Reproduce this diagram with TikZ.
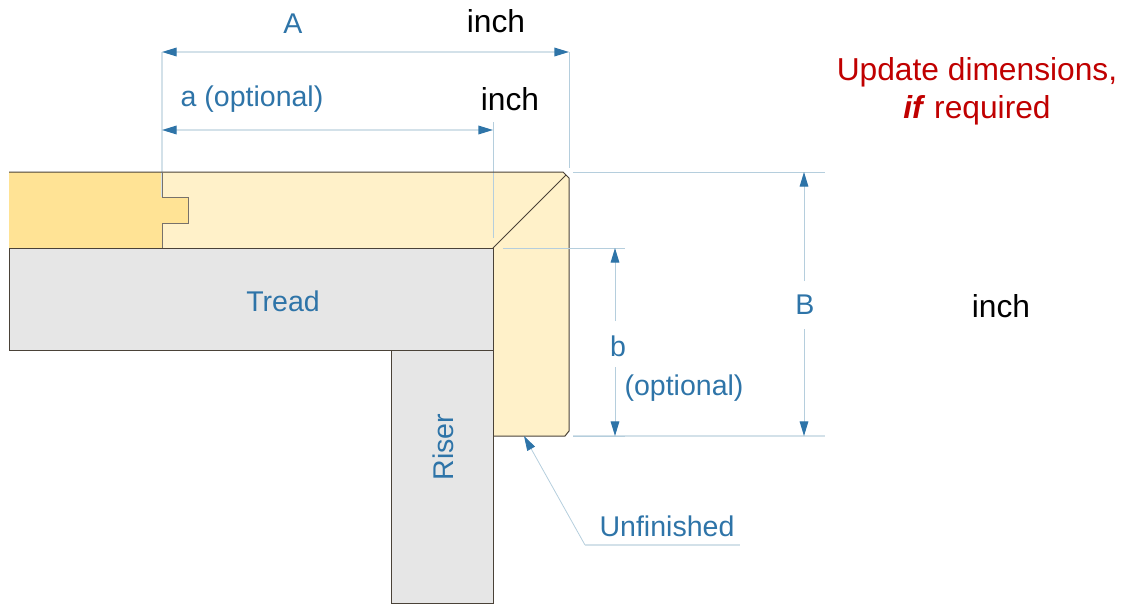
\documentclass[tikz,border=0pt]{standalone}
\usepackage{fontspec}
\setmainfont{Liberation Sans}
\usetikzlibrary{arrows.meta}
\definecolor{dimblue}{HTML}{2E74A8}
\definecolor{extline}{HTML}{D3E1E9}
\definecolor{leader}{HTML}{B5CEDD}
\definecolor{woodlight}{HTML}{FFF1C9}
\definecolor{wooddark}{HTML}{FFE395}
\definecolor{boardgrey}{HTML}{E6E6E6}
\definecolor{outlinec}{HTML}{4A4238}
\definecolor{notered}{HTML}{C00000}
\tikzset{
  x=0.75pt,y=-0.75pt,
  every node/.style={inner sep=0pt,outer sep=0pt},
  lbl/.style={text=dimblue,font=\fontsize{21.4}{24}\selectfont},
  blk/.style={text=black,font=\fontsize{23.8}{27}\selectfont},
  rednote/.style={text=notered,font=\fontsize{23.8}{27}\selectfont},
  tip/.style={Triangle[length=11pt,width=6.5pt,color=dimblue]},
  extl/.style={draw=extline,line width=1pt},
  thinl/.style={draw=leader,line width=0.7pt},
  diml/.style={draw=extline,line width=1pt,{Triangle[length=11pt,width=6.5pt,color=dimblue]}-{Triangle[length=11pt,width=6.5pt,color=dimblue]}},
  vdim/.style={draw=leader,line width=0.75pt,-{Triangle[length=11pt,width=6.5pt,color=dimblue]}},
  leadl/.style={draw=leader,line width=0.6pt},
  outl/.style={draw=outlinec,line width=0.75pt},
}
\begin{document}
\begin{tikzpicture}
\useasboundingbox (0,0) rectangle (1129,604);
% wood
\fill[woodlight] (162,172) -- (563,172) -- (569,178) -- (569,431) -- (565,436) -- (493,436) -- (493,248) -- (162,248) -- cycle;
\fill[wooddark] (9,172) -- (162,172) -- (162,197) -- (188,197) -- (188,223) -- (162,223) -- (162,248) -- (9,248) -- cycle;
% extension lines
\coordinate (extAtop) at (162,52);
\coordinate (extAbot) at (162,197);
\coordinate (extRtop) at (569,52);
\coordinate (extRbot) at (569,168);
\coordinate (extatop) at (493,122);
\coordinate (extabot) at (493,238);
\draw[extl] (extAtop) -- (extAbot);
\draw[thinl] (extRtop) -- (extRbot);
\draw[thinl] (extatop) -- (extabot);
\coordinate (dimAl) at (162,52);
\coordinate (dimAr) at (569,52);
\coordinate (dimal) at (162,130);
\coordinate (dimar) at (493,130);
\draw[diml] (dimAl) -- (dimAr);
\draw[diml] (dimal) -- (dimar);
% outline
\draw[outl] (9,172) -- (563,172) -- (569,178) -- (569,431) -- (565,436) -- (493,436);
\draw[outl,draw=outlinec!75] (162,172) -- (162,197) -- (188,197) -- (188,223) -- (162,223) -- (162,248);
\draw[outl] (493,248) -- (566,175);
% boards
\node[draw=outlinec,line width=0.75pt,fill=boardgrey,minimum width=363pt,minimum height=76.5pt,anchor=north west] (tread) at (9,248) {};
\node[draw=outlinec,line width=0.75pt,fill=boardgrey,minimum width=76.5pt,minimum height=189.75pt,anchor=north west] (riser) at (391,350) {};
\node[lbl] (treadlbl) at (283,301) {Tread};
\node[lbl,rotate=90] (riserlbl) at (443,447) {Riser};
% right extension
\coordinate (hRa) at (573,172);
\coordinate (hRb) at (825,172);
\coordinate (hMa) at (503,248);
\coordinate (hMb) at (625,248);
\coordinate (hBa) at (573,436);
\coordinate (hBb) at (825,436);
\coordinate (hBm) at (625,436);
\draw[thinl] (hRa) -- (hRb);
\draw[thinl] (hMa) -- (hMb);
\draw[extl] (hBa) -- (hBb);
\draw[thinl] (hBa) -- (hBm);
% vertical dimensions with gaps for their labels
\coordinate (dimBt) at (804,172);
\coordinate (dimBb) at (804,436);
\coordinate (dimbt) at (615,248);
\coordinate (dimbb) at (615,436);
\coordinate (gapBt) at (804,281);
\coordinate (gapBb) at (804,329);
\coordinate (gapbt) at (615,321);
\coordinate (gapbb) at (615,367);
\draw[vdim] (gapBt) -- (dimBt);
\draw[vdim] (gapBb) -- (dimBb);
\draw[vdim] (gapbt) -- (dimbt);
\draw[vdim] (gapbb) -- (dimbb);
% leader
\coordinate (unfTip) at (524,436);
\coordinate (unfKnee) at (585,545);
\coordinate (unfEnd) at (740,545);
\draw[leadl,-{Triangle[length=11pt,width=6.5pt,color=dimblue]}] (unfKnee) -- (unfTip);
\draw[extl] (unfKnee) -- (unfEnd);
% labels
\node[lbl] (A) at (293,24) {A};
\node[lbl] (a) at (252,99) {a (optional)};
\node[lbl] (B) at (805,305) {B};
\node[lbl] (b) at (618,346) {b};
\node[lbl] (opt) at (684,388) {(optional)};
\node[lbl] (unf) at (667,526) {Unfinished};
\node[blk] (i1) at (496,21) {inch};
\node[blk] (i2) at (510,99) {inch};
\node[blk] (i3) at (1001,306) {inch};
\node[rednote] (r1) at (977,72) {Update dimensions,};
\node[rednote] (r2) at (977,110) {\textbf{\textit{if}} required};
\end{tikzpicture}
\end{document}
